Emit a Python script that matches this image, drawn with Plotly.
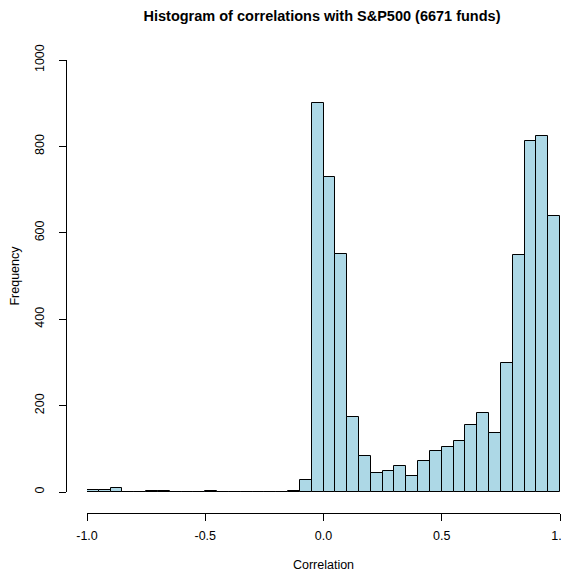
import plotly.graph_objects as go

# Histogram bins (left edges) and counts
bin_width = 0.05
bin_left = [round(-1.0 + i * bin_width, 2) for i in range(40)]
counts = [4, 4, 9, 0, 0, 2, 2, 0, 0, 0,
          2, 0, 0, 0, 1, 0, 0, 2, 28, 900,
          729, 550, 173, 84, 44, 49, 61, 37, 72, 96,
          105, 119, 154, 182, 137, 298, 549, 812, 824, 640]
x_ticks = [-1.0, -0.5, 0.0, 0.5, 1.0]
x_tick_labels = ["-1.0", "-0.5", "0.0", "0.5", "1.0"]
y_ticks = [0, 200, 400, 600, 800, 1000]
y_tick_labels = ["0", "200", "400", "600", "800", "1000"]

centers = [b + bin_width / 2 for b in bin_left]

# the page body has an 8px margin, so the figure is drawn 8px smaller
OFF = 8
W, H = 569 - OFF, 572 - OFF
font = "Liberation Sans, Arial, sans-serif"

fig = go.Figure(go.Bar(
    x=centers, y=counts, width=bin_width,
    marker=dict(color="#ADD8E6", line=dict(color="#000000", width=1)),
    hoverinfo="x+y",
))

# pixel geometry (page coordinates minus the body offset)
pl, pr, pt, pb = 66 - OFF, 560 - OFF, 60 - OFF, 513 - OFF   # paper area
x0px, y0px = 87 - OFF, 492 - OFF                             # -1.0 and 0
fig.update_layout(
    width=W, height=H,
    margin=dict(l=pl, r=W - pr, t=pt, b=H - pb, pad=0, autoexpand=False),
    paper_bgcolor="white", plot_bgcolor="white",
    font=dict(family=font, size=12, color="#000000"),
    showlegend=False, bargap=0,
    title=dict(text="<b>Histogram of correlations with S&P500 (6671 funds)</b>",
               x=(322 - OFF) / W, xanchor="center", y=1 - (15.5 - OFF) / H,
               yanchor="middle",
               font=dict(size=14.5, family=font, color="#000000")),
    xaxis=dict(
        range=[-1, 1], domain=[(x0px - pl) / (pr - pl), 1],
        anchor="free", position=0, automargin=False,
        showline=True, linecolor="#000000", linewidth=1,
        ticks="outside", ticklen=7, tickwidth=1, tickcolor="#000000",
        tickvals=x_ticks, ticktext=x_tick_labels, ticklabelstandoff=4,
        ticklabeloverflow="allow",
        showgrid=False, zeroline=False,
        tickfont=dict(size=12.5),
        title=dict(text="Correlation", font=dict(size=12.5), standoff=18),
    ),
    yaxis=dict(
        range=[0, 1000], domain=[(pb - y0px) / (pb - pt), 1],
        anchor="free", position=0, automargin=False,
        showline=True, linecolor="#000000", linewidth=1,
        ticks="outside", ticklen=7, tickwidth=1, tickcolor="#000000",
        tickvals=y_ticks, ticktext=y_tick_labels, tickangle=-90,
        ticklabelstandoff=10, ticklabeloverflow="allow",
        showgrid=False, zeroline=False,
        tickfont=dict(size=12.5),
        title=dict(text="Frequency", font=dict(size=12.5), standoff=9),
    ),
)

fig.write_html("out.html")
